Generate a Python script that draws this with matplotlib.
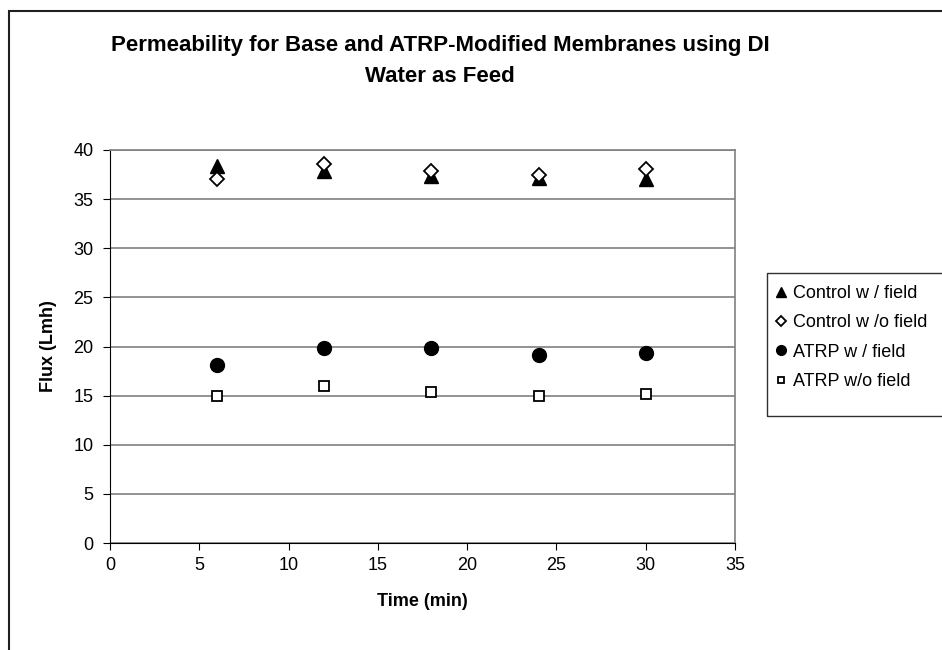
import matplotlib
matplotlib.use("Agg")
import matplotlib.pyplot as plt
from matplotlib.patches import Rectangle

plt.rcParams['font.family'] = ['Liberation Sans', 'DejaVu Sans']

# Flux data (time in min, flux in Lmh)
time = [6, 12, 18, 24, 30]
control_field = [38.4, 37.9, 37.4, 37.2, 37.0]
control_nofield = [37.0, 38.6, 37.9, 37.5, 38.1]
atrp_field = [18.1, 19.8, 19.8, 19.1, 19.3]
atrp_nofield = [15.0, 16.0, 15.4, 15.0, 15.2]

series = [
    ("Control w / field", control_field, dict(marker='^', color='black', markersize=10)),
    ("Control w /o field", control_nofield, dict(marker='D', markerfacecolor='white', markeredgecolor='black', markersize=7.5, markeredgewidth=1.3)),
    ("ATRP w / field", atrp_field, dict(marker='o', color='black', markersize=10)),
    ("ATRP w/o field", atrp_nofield, dict(marker='s', markerfacecolor='white', markeredgecolor='black', markersize=7, markeredgewidth=1.3)),
]

fig = plt.figure(figsize=(9.42, 6.5), dpi=100)
ax = fig.add_axes([110 / 942, 1 - 543 / 650, 625 / 942, 393 / 650])

for label, vals, style in series:
    ax.plot(time, vals, linestyle='none', label=label, **style)

ax.set_xlim(0, 35)
ax.set_ylim(0, 40)
ax.set_xticks(range(0, 36, 5))
ax.set_yticks(range(0, 41, 5))
ax.yaxis.grid(True, color='#808080', linewidth=1.2)
ax.set_axisbelow(True)
for side in ['top', 'right']:
    ax.spines[side].set_color('#808080')
    ax.spines[side].set_linewidth(1.2)
for side in ['left', 'bottom']:
    ax.spines[side].set_color('black')
ax.tick_params(labelsize=13, length=5, direction='out')
ax.tick_params(axis='x', pad=5)
ax.tick_params(axis='y', pad=7)
ax.set_xlabel("Time (min)", fontsize=13, fontweight='bold', labelpad=14)
ax.set_ylabel("Flux (Lmh)", fontsize=13, fontweight='bold', labelpad=12)

fig.text(440 / 942, 1 - 45 / 650, "Permeability for Base and ATRP-Modified Membranes using DI",
         ha='center', va='center', fontsize=16, fontweight='bold')
fig.text(440 / 942, 1 - 76 / 650, "Water as Feed",
         ha='center', va='center', fontsize=16, fontweight='bold')

# legend without its own frame; box drawn separately (Excel-style uneven padding)
leg = fig.legend(loc='upper left', bbox_to_anchor=(772 / 942, 1 - 285 / 650),
                 fontsize=13, frameon=False,
                 handletextpad=0.15, handlelength=1.0, borderpad=0.0, labelspacing=0.68,
                 markerscale=0.7, borderaxespad=0)
fig.patches.append(Rectangle((767 / 942, 1 - 416 / 650), 0.3, 143 / 650, transform=fig.transFigure,
                             fill=False, edgecolor='#303030', linewidth=1.0))

# outer chart border
fig.patches.append(Rectangle((9 / 942, -0.05), 1.0, 1 - 11 / 650 + 0.05, transform=fig.transFigure,
                             fill=False, edgecolor='#202020', linewidth=1.5))

fig.savefig("out.png", dpi=100)
